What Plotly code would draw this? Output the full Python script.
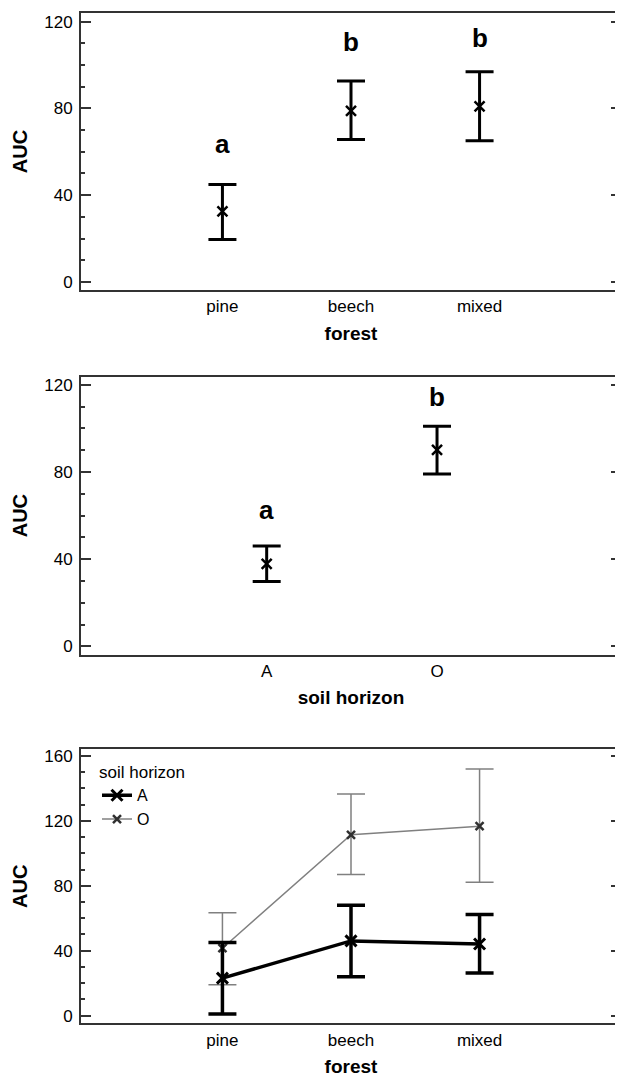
import plotly.graph_objects as go

# ---- data ----
forest = ["pine", "beech", "mixed"]
forest_mean = [32.5, 78.9, 80.9]
forest_upper = [44.9, 92.6, 96.9]
forest_lower = [19.6, 65.7, 65.1]
forest_letters = ["a", "b", "b"]
forest_letter_y = [63.8, 110.8, 112.3]

horizon = ["A", "O"]
horizon_mean = [37.8, 90.2]
horizon_upper = [46.0, 101.0]
horizon_lower = [29.7, 79.1]
horizon_letters = ["a", "b"]
horizon_letter_y = [62.5, 114.3]

A_mean = [23.1, 46.0, 44.1]
A_upper = [45.0, 68.0, 62.3]
A_lower = [1.0, 23.9, 26.2]
O_mean = [41.5, 111.4, 116.7]
O_upper = [63.4, 136.5, 151.9]
O_lower = [19.0, 87.0, 82.2]

FONT = "Liberation Sans, Arial, sans-serif"
OFF = 8  # page body margin
W = 623 - OFF
H = 1083 - OFF


def ydom(top_px, bot_px):
    return [1 - (bot_px - OFF) / H, 1 - (top_px - OFF) / H]


def px_x(px):
    return (px - OFF) / W


def px_y(py):
    return 1 - (py - OFF) / H


def errs(mean, up, lo):
    return dict(type="data", symmetric=False,
                array=[u - m for u, m in zip(up, mean)],
                arrayminus=[m - l for m, l in zip(mean, lo)])


fig = go.Figure()

# panel 1
fig.add_trace(go.Scatter(
    x=forest, y=forest_mean, mode="markers", xaxis="x", yaxis="y",
    marker=dict(symbol="x-thin", size=10, line=dict(width=2.5, color="black"), color="black"),
    error_y=dict(**errs(forest_mean, forest_upper, forest_lower), color="black", thickness=3, width=14),
    showlegend=False))

# panel 2
fig.add_trace(go.Scatter(
    x=horizon, y=horizon_mean, mode="markers", xaxis="x2", yaxis="y2",
    marker=dict(symbol="x-thin", size=10, line=dict(width=2.5, color="black"), color="black"),
    error_y=dict(**errs(horizon_mean, horizon_upper, horizon_lower), color="black", thickness=3, width=14),
    showlegend=False))

# panel 3
fig.add_trace(go.Scatter(
    x=forest, y=O_mean, mode="lines+markers", xaxis="x3", yaxis="y3", name="O",
    line=dict(color="#808080", width=1.5),
    marker=dict(symbol="x-thin", size=8, line=dict(width=2.5, color="#303030"), color="#303030"),
    error_y=dict(**errs(O_mean, O_upper, O_lower), color="#808080", thickness=1.5, width=14)))
fig.add_trace(go.Scatter(
    x=forest, y=A_mean, mode="lines+markers", xaxis="x3", yaxis="y3", name="A",
    line=dict(color="black", width=3.5),
    marker=dict(symbol="x-thin", size=11, line=dict(width=3, color="black"), color="black"),
    error_y=dict(**errs(A_mean, A_upper, A_lower), color="black", thickness=3.5, width=14)))

xdom = [px_x(81), px_x(621)]
tickfont = dict(family=FONT, size=17, color="black")
ytitlefont = dict(family=FONT, size=20, color="black", weight="bold")
xtitlefont = dict(family=FONT, size=19, color="black", weight="bold")
line = dict(showline=True, linecolor="#333", linewidth=2, mirror=True)


def yax(domain, rng, dtick_major, anchor):
    return dict(domain=domain, range=rng, anchor=anchor, dtick=dtick_major, tick0=0,
                ticks="inside", ticklen=10, tickwidth=1.5, tickcolor="#333",
                minor=dict(ticks="inside", ticklen=4, dtick=10, tickwidth=1.5, tickcolor="#333"),
                showgrid=False, zeroline=False, tickfont=tickfont, ticklabelstandoff=3,
                title=dict(text="AUC", font=ytitlefont, standoff=11),
                showline=True, linecolor="#333", linewidth=2, mirror="ticks")


def xax(domain, rng, anchor, title):
    return dict(domain=domain, range=rng, anchor=anchor, type="category",
                ticks="", showgrid=False, zeroline=False, tickfont=tickfont,
                title=dict(text=title, font=xtitlefont, standoff=11), **line)


fig.update_layout(
    width=W, height=H,
    margin=dict(l=0, r=0, t=0, b=0),
    paper_bgcolor="white", plot_bgcolor="white",
    xaxis=xax(xdom, [-1.1, 3.1], "y", "forest"),
    yaxis=yax(ydom(11, 289), [-3.7, 124], 40, "x"),
    xaxis2=xax(xdom, [-1.09, 2.08], "y2", "soil horizon"),
    yaxis2=yax(ydom(376, 655), [-3.8, 123.8], 40, "x2"),
    xaxis3=xax(xdom, [-1.1, 3.1], "y3", "forest"),
    yaxis3=yax(ydom(750, 1025), [-4.7, 164.1], 40, "x3"),
    legend=dict(x=px_x(97), y=px_y(757), xanchor="left", yanchor="top",
                bgcolor="rgba(0,0,0,0)", traceorder="reversed",
                title=dict(text="soil horizon", font=dict(family=FONT, size=17, color="black")),
                font=dict(family=FONT, size=16, color="black"),
                tracegroupgap=0, itemwidth=30),
    font=dict(family=FONT),
)

for c, t, y in zip(forest, forest_letters, forest_letter_y):
    fig.add_annotation(x=c, y=y, xref="x", yref="y", text=t, showarrow=False,
                       font=dict(family=FONT, size=26, color="black", weight="bold"))
for c, t, y in zip(horizon, horizon_letters, horizon_letter_y):
    fig.add_annotation(x=c, y=y, xref="x2", yref="y2", text=t, showarrow=False,
                       font=dict(family=FONT, size=26, color="black", weight="bold"))

fig.write_html("out.html")
